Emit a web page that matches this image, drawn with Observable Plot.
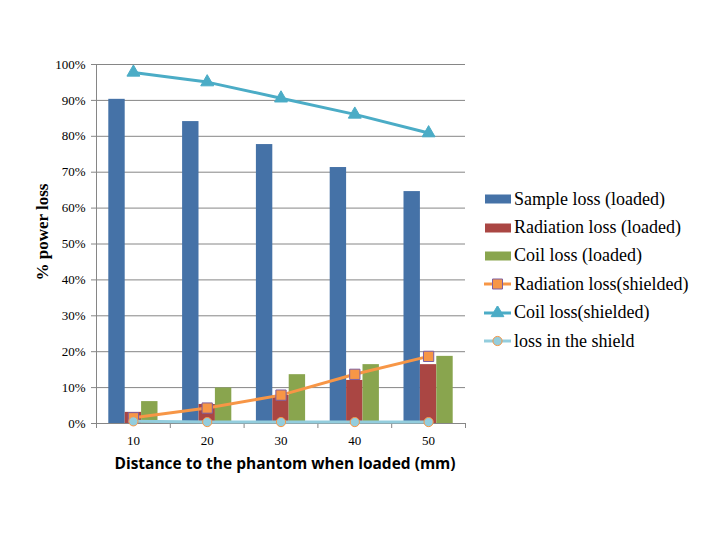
<!DOCTYPE html>
<html>
<head>
<meta charset="utf-8">
<script src="https://cdn.jsdelivr.net/npm/d3@7"></script>
<script src="https://cdn.jsdelivr.net/npm/@observablehq/plot@0.6"></script>
<style>
  html, body { margin: 0; padding: 0; background: #fff; }
  #wrap { position: relative; width: 720px; height: 540px; }
  #legend { position: absolute; left: 484px; top: 185px; font-family: "Liberation Serif", "Times New Roman", serif; font-size: 18px; color: #000; }
  .item { display: flex; align-items: center; height: 28.4px; white-space: nowrap; }
  .item svg { margin-right: 3px; flex: none; }
</style>
</head>
<body>
<div id="wrap"><div id="chart"></div><div id="legend"></div></div>
<script>
// ---- data (values in %) ----
const distances = [10, 20, 30, 40, 50];
const sampleLoaded = [90.3, 84.1, 77.7, 71.3, 64.6];
const radiationLoaded = [3.1, 5.3, 7.8, 12.0, 16.4];
const coilLoaded = [6.1, 9.9, 13.6, 16.4, 18.7];
const radiationShielded = [1.6, 4.3, 7.9, 13.7, 18.7];
const coilShielded = [97.8, 95.1, 90.6, 86.1, 80.9];
const shieldLoss = [0.6, 0.4, 0.4, 0.4, 0.4];
const yTicks = [0, 10, 20, 30, 40, 50, 60, 70, 80, 90, 100];
const seriesNames = ["Sample loss (loaded)", "Radiation loss (loaded)", "Coil loss (loaded)",
  "Radiation loss(shielded)", "Coil loss(shielded)", "loss in the shield"];
const xLabel = "Distance to the phantom when loaded (mm)";
const yLabel = "% power loss";

const colors = {
  sample: "#4572A7", radLoaded: "#AA4643", coilLoaded: "#89A54E",
  radShield: "#F79646", coilShield: "#4BACC6", shield: "#93CDDD"
};

const rows = distances.map((d, i) => ({
  dist: d, sample: sampleLoaded[i], radL: radiationLoaded[i], coilL: coilLoaded[i],
  radS: radiationShielded[i], coilS: coilShielded[i], shield: shieldLoss[i]
}));
const halfStep = 5; // half the spacing between categories (data units)
const boundaries = [distances[0] - halfStep, ...distances.map(d => d + halfStep)];

// layout of the three bars inside each category slot (pixels)
const W = 720, H = 540, mL = 96, mR = 255, mT = 64, mB = 117;
const bw = (W - mL - mR) / distances.length;
const barW = bw / 4.5, gap = barW * 1.5 / 2;
const bar = (k) => ({ insetLeft: gap + k * barW, insetRight: bw - gap - (k + 1) * barW });

const serif = "'Liberation Serif', 'Times New Roman', serif";
const sans = "'Open Sans', 'Noto Sans', sans-serif";
const grey = "#868686";

const chart = Plot.plot({
  width: W, height: H,
  marginLeft: mL, marginRight: mR, marginTop: mT, marginBottom: mB,
  style: { fontFamily: serif, fontSize: "13px", color: "#000", background: "#fff" },
  x: { type: "linear", domain: [boundaries[0], boundaries[boundaries.length - 1]] },
  y: { domain: [0, 100] },
  marks: [
    Plot.gridY(yTicks.slice(1), { stroke: grey, strokeOpacity: 1, strokeWidth: 1 }),
    Plot.rectY(rows, { x1: d => d.dist - halfStep, x2: d => d.dist + halfStep, y: "sample", fill: colors.sample, ...bar(0) }),
    Plot.rectY(rows, { x1: d => d.dist - halfStep, x2: d => d.dist + halfStep, y: "radL", fill: colors.radLoaded, ...bar(1) }),
    Plot.rectY(rows, { x1: d => d.dist - halfStep, x2: d => d.dist + halfStep, y: "coilL", fill: colors.coilLoaded, ...bar(2) }),
    Plot.ruleX([boundaries[0]], { stroke: grey, strokeWidth: 1 }),
    Plot.ruleY([0], { stroke: grey, strokeWidth: 1 }),
    Plot.axisY({ ticks: yTicks, tickFormat: d => d + "%", tickSize: 5, tickPadding: 6, stroke: grey, fill: "#000", label: null, fontSize: 13, fontFamily: serif }),
    Plot.axisX({ ticks: boundaries, tickFormat: () => "", tickSize: 5, stroke: grey, label: null }),
    Plot.axisX({ ticks: distances, tickFormat: d => String(d), tickSize: 0, tickPadding: 12, fill: "#000", label: null, fontSize: 13, fontFamily: serif }),
    Plot.line(rows, { x: "dist", y: "radS", stroke: colors.radShield, strokeWidth: 3 }),
    Plot.dot(rows, { x: "dist", y: "radS", symbol: "square", r: 5.8, fill: colors.radShield, stroke: "#7D5FA0", strokeWidth: 1 }),
    Plot.line(rows, { x: "dist", y: "coilS", stroke: colors.coilShield, strokeWidth: 3 }),
    Plot.dot(rows, { x: "dist", y: "coilS", symbol: "triangle", r: 4.8, fill: colors.coilShield, stroke: "#4BACC6", strokeWidth: 1 }),
    Plot.line(rows, { x: "dist", y: "shield", stroke: colors.shield, strokeWidth: 3 }),
    Plot.dot(rows, { x: "dist", y: "shield", symbol: "circle", r: 4.6, fill: colors.shield, stroke: colors.radShield, strokeWidth: 1 }),
    Plot.text([xLabel], { frameAnchor: "bottom", textAnchor: "middle", lineAnchor: "middle", dx: 4, dy: 41, fontFamily: sans, fontWeight: "bold", fontSize: 15.5, fill: "#000" }),
    Plot.text([yLabel], { frameAnchor: "left", textAnchor: "middle", lineAnchor: "middle", dx: -54, dy: -12, rotate: -90, fontFamily: serif, fontWeight: "bold", fontSize: 17, fill: "#000" })
  ]
});
document.getElementById("chart").appendChild(chart);

// ---- legend ----
const legendSpecs = [
  { type: "bar", color: colors.sample },
  { type: "bar", color: colors.radLoaded },
  { type: "bar", color: colors.coilLoaded },
  { type: "line", color: colors.radShield, marker: "square", fill: colors.radShield, stroke: "#7D5FA0" },
  { type: "line", color: colors.coilShield, marker: "triangle", fill: colors.coilShield, stroke: colors.coilShield },
  { type: "line", color: colors.shield, marker: "circle", fill: colors.shield, stroke: colors.radShield }
];
const legend = d3.select("#legend");
legendSpecs.forEach((s, i) => {
  const item = legend.append("div").attr("class", "item");
  const svg = item.append("svg").attr("width", 27).attr("height", 14);
  if (s.type === "bar") {
    svg.append("rect").attr("x", 1).attr("y", 2.5).attr("width", 26).attr("height", 9).attr("fill", s.color);
  } else {
    svg.append("line").attr("x1", 0).attr("x2", 27).attr("y1", 7).attr("y2", 7).attr("stroke", s.color).attr("stroke-width", 3);
    const sym = s.marker === "square" ? d3.symbolSquare : s.marker === "triangle" ? d3.symbolTriangle : d3.symbolCircle;
    const size = s.marker === "square" ? 100 : s.marker === "triangle" ? 70 : 66;
    svg.append("path").attr("transform", "translate(13.5,7)").attr("d", d3.symbol(sym, size)())
      .attr("fill", s.fill).attr("stroke", s.stroke).attr("stroke-width", 1);
  }
  item.append("span").text(seriesNames[i]);
});
</script>
</body>
</html>
